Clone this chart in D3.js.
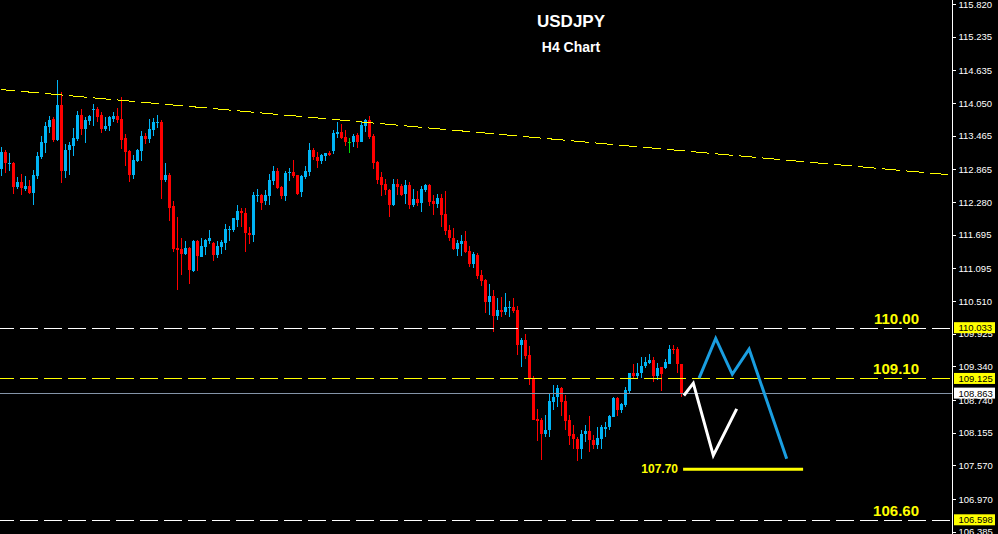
<!DOCTYPE html>
<html><head><meta charset="utf-8">
<script src="https://cdn.jsdelivr.net/npm/d3@7"></script>
<style>html,body{margin:0;padding:0;background:#000;overflow:hidden}</style>
</head><body><svg id="c" width="998" height="534"></svg>
<script>
const opens=[112.87,113.18,112.97,112.97,112.54,112.64,112.52,112.56,112.44,112.74,
113.08,113.34,113.62,113.77,113.39,114.01,112.84,113.21,113.28,113.40,
113.83,113.59,113.73,113.93,113.94,113.83,113.58,113.64,113.77,113.82,
113.76,113.42,113.20,112.76,113.01,113.20,113.46,113.40,113.57,113.70,
113.71,112.67,112.76,112.21,111.46,111.44,111.35,111.46,111.05,111.58,
111.30,111.48,111.59,111.54,111.33,111.48,111.55,111.78,111.78,111.96,
112.12,112.08,111.72,111.69,112.38,112.40,112.30,112.39,112.66,112.83,
112.54,112.39,112.79,112.82,112.76,112.46,112.72,112.82,113.21,113.09,
113.01,113.11,113.16,113.19,113.49,113.53,113.45,113.36,113.36,113.48,
113.36,113.64,113.75,113.46,113.00,112.73,112.60,112.50,112.22,112.60,
112.56,112.42,112.58,112.22,112.33,112.27,112.50,112.58,112.29,112.25,
112.35,112.06,111.78,111.64,111.44,111.53,111.59,111.40,111.17,111.33,
110.97,110.88,110.50,110.60,110.25,110.35,110.32,110.39,110.40,110.35,
109.72,109.81,109.54,109.14,108.40,108.38,108.14,108.20,108.71,108.79,
108.95,108.72,108.38,108.14,108.04,107.87,108.14,108.18,108.02,107.93,
108.05,108.23,108.25,108.44,108.77,108.56,108.65,108.90,109.22,109.16,
109.22,109.35,109.41,109.45,109.17,109.33,109.32,109.38,109.66,109.65,
109.38];
const highs=[113.26,113.21,113.15,112.99,112.72,112.78,112.74,112.67,112.85,113.17,
113.46,113.71,113.82,113.80,114.46,114.25,113.32,113.36,113.60,113.91,
113.94,113.80,113.84,114.04,113.97,113.89,113.80,113.82,113.89,113.96,
114.16,113.49,113.21,113.12,113.22,113.55,113.51,113.76,113.79,113.83,
113.74,112.98,112.79,112.30,112.02,111.64,111.58,111.48,111.60,111.60,
111.63,111.61,111.78,111.57,111.58,111.60,111.88,111.85,112.00,112.22,
112.18,112.18,111.84,112.45,112.51,112.42,112.49,112.78,112.92,112.88,
112.56,112.83,112.88,113.03,112.76,112.76,112.93,113.33,113.24,113.18,
113.13,113.16,113.20,113.57,113.71,113.67,113.57,113.43,113.49,113.51,
113.73,113.76,113.82,113.49,113.01,112.82,112.70,112.52,112.69,112.69,
112.61,112.67,112.64,112.51,112.47,112.56,112.61,112.60,112.40,112.43,
112.42,112.47,111.87,111.81,111.60,111.69,111.76,111.49,111.38,111.36,
111.06,110.90,110.81,110.71,110.56,110.58,110.65,110.51,110.56,110.42,
109.85,109.92,109.70,109.16,108.58,108.41,108.47,108.84,109.01,109.01,
108.98,108.83,108.47,108.29,108.08,108.20,108.29,108.45,108.11,108.26,
108.29,108.35,108.47,108.80,108.80,108.69,108.98,109.23,109.39,109.41,
109.51,109.50,109.56,109.51,109.41,109.33,109.47,109.73,109.73,109.68,
109.38];
const lows=[112.74,112.80,112.84,112.42,112.52,112.40,112.48,112.42,112.22,112.70,
113.05,113.16,113.52,113.36,113.37,112.62,112.71,112.76,113.10,113.37,
113.48,113.34,113.66,113.64,113.71,113.52,113.55,113.55,113.71,113.69,
113.23,112.92,112.64,112.70,113.00,113.02,113.32,113.34,113.46,113.61,
112.33,112.64,111.94,111.39,110.70,110.97,111.33,110.82,111.03,111.05,
111.29,111.33,111.53,111.22,111.27,111.35,111.42,111.59,111.75,111.84,
111.84,111.39,111.53,111.57,112.28,112.14,112.22,112.22,112.58,112.52,
112.33,112.30,112.66,112.71,112.40,112.37,112.70,112.74,113.03,112.89,
112.96,113.02,113.10,113.14,113.43,113.40,113.29,113.16,113.26,113.24,
113.36,113.54,113.40,112.87,112.61,112.39,112.40,112.02,112.21,112.40,
112.39,112.25,112.15,112.19,112.21,112.11,112.46,112.21,112.05,112.17,
111.83,111.69,111.58,111.42,111.31,111.31,111.37,111.11,111.10,110.91,
110.78,110.29,110.26,109.96,110.17,110.22,110.26,110.23,110.29,109.54,
109.33,109.47,109.01,108.38,108.01,107.67,108.08,108.08,108.56,108.61,
108.45,108.21,107.93,107.86,107.65,107.69,107.99,107.81,107.87,107.87,
107.87,108.07,108.20,108.43,108.45,108.50,108.61,108.87,109.13,109.13,
109.13,109.32,109.38,109.07,109.10,108.90,109.29,109.38,109.57,109.22,
108.80];
const closes=[113.18,112.97,112.98,112.55,112.64,112.53,112.57,112.44,112.76,113.10,
113.35,113.64,113.74,113.39,114.01,112.84,113.21,113.30,113.42,113.83,
113.58,113.74,113.82,113.94,113.80,113.58,113.64,113.80,113.82,113.74,
113.39,113.18,112.76,113.03,113.21,113.46,113.40,113.58,113.71,113.71,
112.67,112.76,112.18,111.44,111.42,111.35,111.46,111.06,111.58,111.32,
111.49,111.60,111.63,111.33,111.49,111.57,111.80,111.80,111.99,112.12,
112.09,111.72,111.69,112.40,112.40,112.27,112.40,112.67,112.83,112.53,
112.39,112.80,112.82,112.74,112.43,112.74,112.83,113.21,113.08,113.01,
113.12,113.15,113.12,113.52,113.53,113.43,113.36,113.36,113.46,113.36,
113.66,113.75,113.45,112.98,112.67,112.58,112.50,112.22,112.60,112.54,
112.40,112.58,112.22,112.33,112.27,112.51,112.58,112.28,112.25,112.35,
112.05,111.77,111.64,111.44,111.54,111.59,111.39,111.17,111.35,110.96,
110.87,110.50,110.60,110.25,110.35,110.31,110.40,110.40,110.33,109.72,
109.81,109.53,109.13,108.38,108.37,108.13,108.21,108.72,108.80,108.95,
108.71,108.37,108.09,108.04,107.87,108.14,108.18,108.02,107.93,108.06,
108.26,108.26,108.45,108.77,108.56,108.67,108.92,109.22,109.16,109.23,
109.35,109.42,109.45,109.17,109.32,109.20,109.42,109.66,109.63,109.38,
108.86];
const tickValues=[115.820,115.235,114.635,114.050,113.465,112.865,112.280,111.695,111.095,110.510,109.925,109.340,108.740,108.155,107.570,106.970,106.385];
const levelPrices=[110.033,109.125,106.598];
const levelLabels=["110.00","109.10","106.60"];
const lastPrice=108.863;
const trendIdx=[0,238];
const trendPrice=[114.29,112.76];
const blueIdx=[174.4,178.55,182.7,186.9,196.3];
const bluePrice=[109.13,109.84,109.20,109.65,107.69];
const whiteIdx=[170.6,172.95,177.95,183.8];
const whitePrice=[108.82,109.04,107.75,108.58];
const targetIdx=[170.4,200.4];
const targetPrice=107.50;
const targetLabel="107.70";
const titleText="USDJPY";
const subtitleText="H4 Chart";

const W=998,H=534,axisX=952.5;
const svg=d3.select("#c");
svg.append("rect").attr("width",W).attr("height",H).attr("fill","#000");
const x=d3.scaleLinear().domain([0,238]).range([1.5,953.5]);
const y=d3.scaleLinear().domain([106.385,115.82]).range([531.7,4]);
const BLUE="#00b4f5",RED="#ff0000",DOJI="#00e000",YEL="#ffff00";
const plot=svg.append("g").attr("shape-rendering","crispEdges");
const idx=d3.range(opens.length);
const col=i=>closes[i]>opens[i]?BLUE:(closes[i]<opens[i]?RED:DOJI);
plot.selectAll("line.w").data(idx).join("line").attr("class","w")
 .attr("x1",i=>x(i)).attr("x2",i=>x(i)).attr("y1",i=>y(highs[i])).attr("y2",i=>y(lows[i]))
 .attr("stroke",col).attr("stroke-width",1);
plot.selectAll("rect.b").data(idx).join("rect").attr("class","b")
 .attr("x",i=>x(i)-1.5).attr("width",3)
 .attr("y",i=>y(Math.max(opens[i],closes[i])))
 .attr("height",i=>Math.max(1,Math.abs(y(opens[i])-y(closes[i]))))
 .attr("fill",col);

// trendline
svg.append("line").attr("x1",x(trendIdx[0])).attr("x2",x(trendIdx[1]))
 .attr("y1",y(trendPrice[0])).attr("y2",y(trendPrice[1]))
 .attr("stroke",YEL).attr("stroke-width",1).attr("stroke-dasharray","18,6").attr("stroke-dashoffset",4)
 .attr("shape-rendering","crispEdges");

// level lines
const levelColors=["#ffffff",YEL,"#ffffff"];
levelPrices.forEach((p,k)=>{
  svg.append("line").attr("x1",0).attr("x2",axisX).attr("y1",Math.round(y(p))+0.5).attr("y2",Math.round(y(p))+0.5)
   .attr("stroke",levelColors[k]).attr("stroke-width",1).attr("stroke-dasharray","18,6").attr("stroke-dashoffset",4)
   .attr("shape-rendering","crispEdges");
  svg.append("text").attr("x",919).attr("y",y(p)-4).attr("text-anchor","end")
   .attr("font-family","Liberation Sans, Arial, sans-serif").attr("font-weight","bold").attr("font-size",15)
   .attr("fill",YEL).text(levelLabels[k]);
});
svg.append("line").attr("x1",0).attr("x2",axisX).attr("y1",Math.round(y(lastPrice))+0.5).attr("y2",Math.round(y(lastPrice))+0.5)
 .attr("stroke","#8494a8").attr("stroke-width",1).attr("shape-rendering","crispEdges");

// zigzags
const lineGen=d3.line().x(d=>x(d[0])).y(d=>y(d[1]));
svg.append("path").attr("d",lineGen(blueIdx.map((v,k)=>[v,bluePrice[k]])))
 .attr("fill","none").attr("stroke","#1a9ee0").attr("stroke-width",3);
svg.append("path").attr("d",lineGen(whiteIdx.map((v,k)=>[v,whitePrice[k]])))
 .attr("fill","none").attr("stroke","#ffffff").attr("stroke-width",3);
svg.append("line").attr("x1",x(targetIdx[0])).attr("x2",x(targetIdx[1]))
 .attr("y1",y(targetPrice)).attr("y2",y(targetPrice)).attr("stroke",YEL).attr("stroke-width",3);
svg.append("text").attr("x",678).attr("y",y(targetPrice)+3.5).attr("text-anchor","end")
 .attr("font-family","Liberation Sans, Arial, sans-serif").attr("font-weight","bold").attr("font-size",12)
 .attr("fill",YEL).text(targetLabel);

// title
svg.append("text").attr("x",571).attr("y",27).attr("text-anchor","middle")
 .attr("font-family","Liberation Sans, Arial, sans-serif").attr("font-weight","bold").attr("font-size",17)
 .attr("fill","#fff").text(titleText);
svg.append("text").attr("x",571).attr("y",52).attr("text-anchor","middle")
 .attr("font-family","Liberation Sans, Arial, sans-serif").attr("font-weight","bold").attr("font-size",14)
 .attr("fill","#fff").text(subtitleText);

// axis
svg.append("rect").attr("x",axisX).attr("y",0).attr("width",W-axisX).attr("height",H).attr("fill","#000");
const ax=svg.append("g").attr("transform",`translate(${axisX},0)`)
 .call(d3.axisRight(y).tickValues(tickValues).tickFormat(d3.format(".3f")).tickSize(3).tickPadding(3));
ax.select(".domain").remove();
ax.selectAll("line").attr("stroke","#fff").attr("shape-rendering","crispEdges");
ax.selectAll("text").attr("fill","#fff").attr("font-size",9.5).attr("font-family","Liberation Sans, Arial, sans-serif");
svg.append("line").attr("x1",axisX).attr("x2",axisX).attr("y1",0).attr("y2",H).attr("stroke","#fff").attr("stroke-width",1).attr("shape-rendering","crispEdges");
const tags=[[levelPrices[0],YEL],[levelPrices[1],YEL],[lastPrice,"#ffffff"],[levelPrices[2],YEL]];
tags.forEach(([p,c])=>{
  const g=svg.append("g").attr("transform",`translate(954,${y(p)})`);
  g.append("rect").attr("x",0).attr("y",-5.5).attr("width",41).attr("height",11).attr("fill",c);
  g.append("text").attr("x",4.5).attr("y",3.5).attr("font-size",9.5).attr("font-family","Liberation Sans, Arial, sans-serif")
   .attr("fill","#000").text(d3.format(".3f")(p));
});
</script></body></html>
